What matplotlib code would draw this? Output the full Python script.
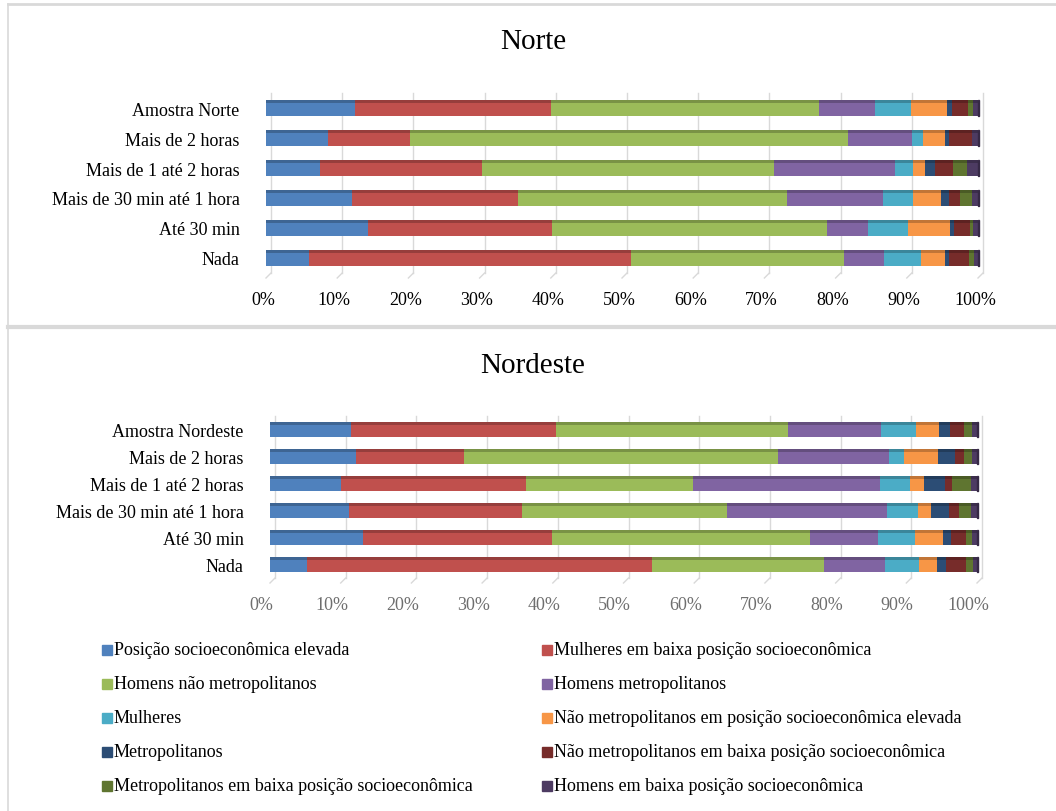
import matplotlib
matplotlib.use("Agg")
import matplotlib.pyplot as plt
from matplotlib.patches import Rectangle
from matplotlib.lines import Line2D
from matplotlib.colors import to_rgb
import matplotlib.transforms as mtransforms

plt.rcParams['font.family'] = ['Liberation Serif', 'DejaVu Serif']

# ---- data -------------------------------------------------------------
categories_norte = ["Amostra Norte", "Mais de 2 horas", "Mais de 1 até 2 horas",
                    "Mais de 30 min até 1 hora", "Até 30 min", "Nada"]
categories_nordeste = ["Amostra Nordeste", "Mais de 2 horas", "Mais de 1 até 2 horas",
                       "Mais de 30 min até 1 hora", "Até 30 min", "Nada"]

series_names = [
    "Posição socioeconômica elevada",
    "Mulheres em baixa posição socioeconômica",
    "Homens não metropolitanos",
    "Homens metropolitanos",
    "Mulheres",
    "Não metropolitanos em posição socioeconômica elevada",
    "Metropolitanos",
    "Não metropolitanos em baixa posição socioeconômica",
    "Metropolitanos em baixa posição socioeconômica",
    "Homens em baixa posição socioeconômica",
]

# one list per category (top to bottom), values per series in %
norte_amostra   = [12.5, 27.5, 37.7,  7.8, 5.1, 5.0, 0.7, 2.3, 0.7, 0.7]
norte_mais2h    = [ 8.7, 11.5, 61.5,  9.0, 1.6, 3.0, 0.6, 3.2, 0.1, 0.8]
norte_1a2h      = [ 7.6, 22.8, 40.9, 17.0, 2.6, 1.7, 1.3, 2.6, 1.9, 1.6]
norte_30a60     = [12.1, 23.3, 37.8, 13.5, 4.2, 3.9, 1.1, 1.6, 1.6, 0.9]
norte_ate30     = [14.3, 25.9, 38.6,  5.8, 5.5, 6.0, 0.5, 2.3, 0.4, 0.7]
norte_nada      = [ 6.1, 45.1, 30.0,  5.6, 5.2, 3.3, 0.6, 2.9, 0.6, 0.6]

nordeste_amostra = [11.5, 29.0, 32.8, 13.1, 5.0, 3.2, 1.6, 2.0, 1.1, 0.7]
nordeste_mais2h  = [12.1, 15.4, 44.4, 15.6, 2.2, 4.8, 2.4, 1.3, 1.1, 0.7]
nordeste_1a2h    = [10.1, 26.1, 23.7, 26.4, 4.2, 2.0, 3.0, 0.9, 2.7, 0.9]
nordeste_30a60   = [11.2, 24.4, 29.0, 22.6, 4.5, 1.8, 2.5, 1.4, 1.8, 0.8]
nordeste_ate30   = [13.1, 26.8, 36.5,  9.6, 5.3, 3.9, 1.1, 2.2, 0.8, 0.7]
nordeste_nada    = [ 5.3, 48.8, 24.2,  8.7, 4.8, 2.6, 1.2, 2.8, 1.0, 0.6]

norte_rows = [norte_amostra, norte_mais2h, norte_1a2h, norte_30a60, norte_ate30, norte_nada]
nordeste_rows = [nordeste_amostra, nordeste_mais2h, nordeste_1a2h, nordeste_30a60,
                 nordeste_ate30, nordeste_nada]

x_ticks = list(range(0, 101, 10))
x_tick_labels = [f"{t}%" for t in x_ticks]

colors = ["#4F81BD", "#C0504D", "#9BBB59", "#8064A2", "#4BACC6",
          "#F79646", "#2C4D75", "#772C2A", "#5F7530", "#4D3B62"]

# ---- figure -----------------------------------------------------------
W, H = 1056, 812
fig = plt.figure(figsize=(W / 100, H / 100), dpi=100)
fig.patch.set_facecolor("white")


def axes_px(x0, y0, x1, y1):
    return fig.add_axes([x0 / W, 1 - y1 / H, (x1 - x0) / W, (y1 - y0) / H])


def darker(c, f=0.78):
    r, g, b = to_rgb(c)
    return (r * f, g * f, b * f)


def draw_panel(ax, cats, rows, tick_color, label_shift_px, box):
    x0, y0, x1, y1 = box
    px_x = 100.0 / (x1 - x0)
    px_y = len(cats) / (y1 - y0)
    n = len(cats)
    ax.set_xlim(0, 100)
    ax.set_ylim(n - 0.5, -0.5)

    # back-wall gridlines with a small depth offset
    depth = 5
    for t in x_ticks:
        gx = t + depth * px_x
        ax.plot([gx, gx], [-0.5, n - 0.5], color="#D9D9D9", lw=1.0, zorder=0,
                clip_on=False)
        ax.plot([gx, t], [n - 0.5, n - 0.5 + depth * px_y], color="#D9D9D9",
                lw=1.0, zorder=0, clip_on=False)

    h = 0.52
    strip = 0.1
    for i, vals in enumerate(rows):
        left = 0.0
        for k, v in enumerate(vals):
            ax.barh(i, v, left=left, height=h, color=colors[k], edgecolor="none",
                    zorder=2)
            ax.barh(i - h / 2 + strip / 2, v, left=left, height=strip,
                    color=darker(colors[k]), edgecolor="none", zorder=3)
            left += v
        # small side face at the bar end
        ax.add_patch(Rectangle((left, i - h / 2), 1.2 * px_x, h,
                               color=darker(colors[-1], 0.7), zorder=3,
                               clip_on=False))

    ax.set_xticks(x_ticks)
    ax.set_xticklabels(x_tick_labels, fontsize=13, color=tick_color)
    ax.set_yticks(range(n))
    ax.set_yticklabels(cats, fontsize=13, color="black")
    ax.tick_params(axis="x", length=0, pad=13)
    ax.tick_params(axis="y", length=0, pad=19)
    off = mtransforms.ScaledTranslation(label_shift_px / 100, 0, fig.dpi_scale_trans)
    for lab in ax.get_xticklabels():
        lab.set_transform(lab.get_transform() + off)
    for s in ax.spines.values():
        s.set_visible(False)
    ax.set_facecolor("none")


box_n = (266, 94, 978, 274)
ax1 = axes_px(*box_n)
draw_panel(ax1, categories_norte, norte_rows, "black", -3, box_n)

box_ne = (270, 417, 977, 579)
ax2 = axes_px(*box_ne)
draw_panel(ax2, categories_nordeste, nordeste_rows, "#6E6E6E", -9, box_ne)

# panel titles
fig.text(533 / W, 1 - 42 / H, "Norte", ha="center", va="center", fontsize=21)
fig.text(533 / W, 1 - 366 / H, "Nordeste", ha="center", va="center", fontsize=21)

# panel frames
frame_c = "#D9D9D9"
fig.add_artist(Line2D([8 / W, 1], [1 - 5 / H, 1 - 5 / H], color=frame_c, lw=2,
                      transform=fig.transFigure))
fig.add_artist(Line2D([8 / W, 1], [1 - 328 / H, 1 - 328 / H], color=frame_c, lw=3,
                      transform=fig.transFigure))
fig.add_artist(Line2D([8 / W, 8 / W], [0, 1 - 5 / H], color=frame_c, lw=1.2,
                      transform=fig.transFigure))

# legend (row-wise, two columns)
leg_cols_x = [102, 542]
leg_rows_y = [651, 685, 719, 753, 787]
for k, name in enumerate(series_names):
    cx = leg_cols_x[k % 2]
    cy = leg_rows_y[k // 2]
    fig.add_artist(Rectangle((cx / W, 1 - (cy + 5) / H), 10 / W, 10 / H,
                             color=colors[k], transform=fig.transFigure))
    fig.text((cx + 12) / W, 1 - cy / H, name, ha="left", va="center", fontsize=13)

fig.savefig("out.png", dpi=100, facecolor="white")
